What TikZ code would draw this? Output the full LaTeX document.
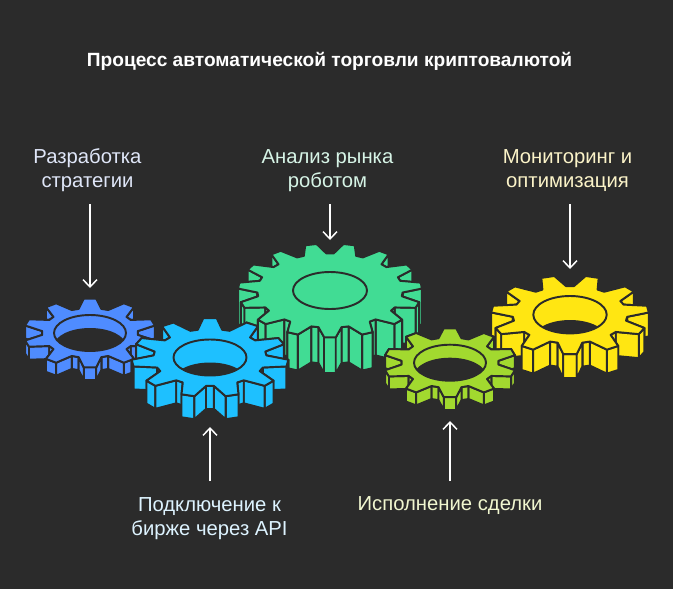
\documentclass[tikz,border=0pt]{standalone}
\usepackage{fontspec}
\setmainfont{Liberation Sans}
\usetikzlibrary{arrows.meta,calc}
\definecolor{bgc}{HTML}{2B2B2B}
\definecolor{gblue}{HTML}{4F8CFF}
\definecolor{gcyan}{HTML}{1EC0FF}
\definecolor{ggreen}{HTML}{41DC94}
\definecolor{glime}{HTML}{A2D92F}
\definecolor{gyellow}{HTML}{FFE612}
\definecolor{tblue}{HTML}{DFE6F8}
\definecolor{tgreen}{HTML}{D6F4E6}
\definecolor{tyellow}{HTML}{FBF3C8}
\definecolor{tcyan}{HTML}{DDF3FF}
\definecolor{tlime}{HTML}{F0F6CF}
\tikzset{
  gearline/.style={draw=bgc,line width=1.45pt,line join=round},
  lbl/.style={text=#1,font=\fontsize{15.2pt}{18pt}\selectfont,align=center,inner sep=0pt},
  ttl/.style={text=white,font=\fontsize{14.35pt}{18pt}\selectfont\bfseries,inner sep=0pt},
  arr/.style={draw=white,line width=1.1pt,-{Straight Barb[length=5.5pt,width=10.5pt,line width=1.1pt]}}
}
% #1 cx, #2 cy, #3 rx, #4 ry, #5 root frac, #6 N, #7 phase, #8 start edge, #9 depth; then hole rx, ry, colour
\newcommand{\gearshape}[9]{%
  \def\gcx{#1}\def\gcy{#2}\def\grx{#3}\def\gry{#4}\def\grf{#5}\def\gN{#6}\def\gph{#7}\def\gs{#8}\def\gd{#9}%
  \gearfinish}
\newcommand{\gearfinish}[3]{%
  \pgfmathsetmacro{\gP}{360/\gN}%
  \pgfmathsetmacro{\gwt}{0.15*\gP}%
  \pgfmathsetmacro{\gwr}{0.38*\gP}%
  \pgfmathtruncatemacro{\gM}{4*\gN}%
  \pgfmathtruncatemacro{\gMm}{\gM-1}%
  \pgfmathtruncatemacro{\gNm}{\gN-1}%
  \foreach \j in {0,...,\gNm}{%
    \pgfmathsetmacro{\ga}{\gph-\j*\gP}%
    \pgfmathtruncatemacro{\ia}{4*\j}\pgfmathtruncatemacro{\ib}{4*\j+1}%
    \pgfmathtruncatemacro{\ic}{4*\j+2}\pgfmathtruncatemacro{\id}{4*\j+3}%
    \coordinate (P\ia) at ({\gcx+\grf*\grx*cos(\ga+\gwr)},{\gcy-\grf*\gry*sin(\ga+\gwr)});
    \coordinate (P\ib) at ({\gcx+\grx*cos(\ga+\gwt)},{\gcy-\gry*sin(\ga+\gwt)});
    \coordinate (P\ic) at ({\gcx+\grx*cos(\ga-\gwt)},{\gcy-\gry*sin(\ga-\gwt)});
    \coordinate (P\id) at ({\gcx+\grf*\grx*cos(\ga-\gwr)},{\gcy-\grf*\gry*sin(\ga-\gwr)});
  }%
  \pgfmathtruncatemacro{\gH}{\gM/2}%
  \foreach \k in {0,...,\gH}{%
    \pgfmathtruncatemacro{\ea}{mod(\gs+\k,\gM)}\pgfmathtruncatemacro{\eb}{mod(\ea+1,\gM)}%
    \pgfmathtruncatemacro{\fa}{mod(\gs-1-\k+2*\gM,\gM)}\pgfmathtruncatemacro{\fb}{mod(\fa+1,\gM)}%
    \path[gearline,fill=#3] (P\ea) -- (P\eb) -- ($(P\eb)+(0,\gd)$) -- ($(P\ea)+(0,\gd)$) -- cycle;
    \path[gearline,fill=#3] (P\fa) -- (P\fb) -- ($(P\fb)+(0,\gd)$) -- ($(P\fa)+(0,\gd)$) -- cycle;
  }%
  \path[gearline,fill=#3] (P0) \foreach \m in {1,...,\gMm}{ -- (P\m)} -- cycle;
  \begin{scope}
    \clip (\gcx,\gcy) ellipse [x radius=#1,y radius=#2];
    \fill[bgc] (\gcx,\gcy+\gd) ellipse [x radius=#1,y radius=#2];
  \end{scope}
  \path[gearline] (\gcx,\gcy) ellipse [x radius=#1,y radius=#2];
}
\begin{document}
\begin{tikzpicture}[x=0.75pt,y=-0.75pt]
\path[fill=bgc] (0,0) rectangle (673,589);
\useasboundingbox (0,0) rectangle (673,589);
\node[ttl] (title) at (329.5,61) {Процесс автоматической торговли криптовалютой};
\node[lbl=tblue] (t1) at (87.5,170.3) {Разработка\\стратегии};
\node[lbl=tgreen] (t3) at (327.5,170.3) {Анализ рынка\\роботом};
\node[lbl=tyellow] (t5) at (567.5,170.3) {Мониторинг и\\оптимизация};
\node[lbl=tcyan] (t2) at (209.5,518.3) {Подключение к\\бирже через API};
\node[lbl=tlime] (t4) at (450,505.8) {Исполнение сделки};
\gearshape{90}{333}{66.5}{34.5}{0.72}{10}{90}{1}{13}{36}{18}{gblue}
\gearshape{330}{290.5}{92}{47}{0.79}{15}{102}{3}{36}{37}{18.5}{ggreen}
\gearshape{210}{357.5}{78.5}{39.5}{0.72}{11}{90}{1}{23}{36.5}{18}{gcyan}
\gearshape{570}{314.7}{79}{39.5}{0.725}{11}{106.36}{3}{24}{36.7}{18.7}{gyellow}
\gearshape{450}{362.7}{66.5}{34.5}{0.73}{10}{90}{1}{13}{36}{18}{glime}
\coordinate (a1s) at (90,204); \coordinate (a1e) at (90,288);
\coordinate (a3s) at (330,204); \coordinate (a3e) at (330,240);
\coordinate (a5s) at (570,204); \coordinate (a5e) at (570,269);
\coordinate (a2s) at (210,481); \coordinate (a2e) at (210,427);
\coordinate (a4s) at (450,481); \coordinate (a4e) at (450,421);
\draw[arr] (a1s) -- (a1e);
\draw[arr] (a3s) -- (a3e);
\draw[arr] (a5s) -- (a5e);
\draw[arr] (a2s) -- (a2e);
\draw[arr] (a4s) -- (a4e);
\end{tikzpicture}
\end{document}
